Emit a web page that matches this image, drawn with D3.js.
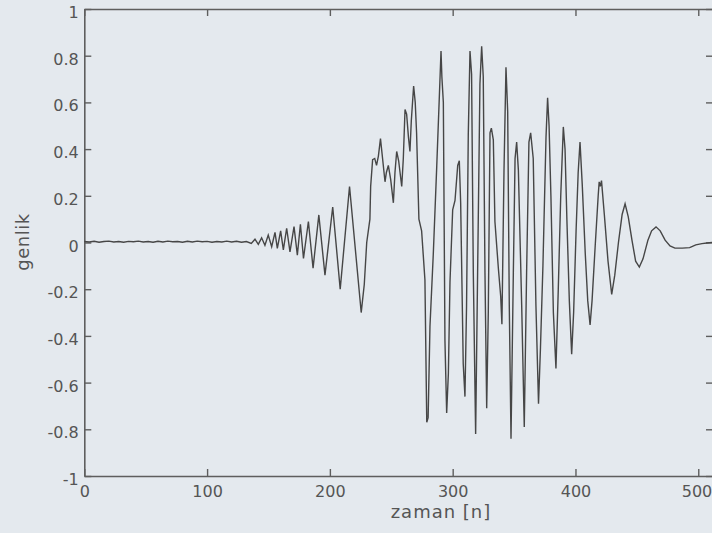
<!DOCTYPE html>
<html>
<head>
<meta charset="utf-8">
<script src="https://cdn.jsdelivr.net/npm/d3@7"></script>
<style>
  html, body { margin: 0; padding: 0; background: #e4e9ee; }
  svg { display: block; }
</style>
</head>
<body>
<svg id="chart" width="712" height="533"></svg>
<script>
// ---- data ----
const sampleN = [
  0, 4, 8, 12, 16, 20, 24, 28, 32, 36, 40, 44, 48, 52, 56, 60, 64, 68, 72, 76,
  80, 84, 88, 92, 96, 100, 104, 108, 112, 116, 120, 124, 128, 132,
  136, 139, 141.7, 144.4, 147.1, 149.8, 152.6, 155.3, 157.2, 159.9, 162.1, 164.8, 167.5,
  170.8, 173.5, 176, 178.5, 182.5, 186.3, 191, 196, 202.3, 208.4, 216, 225.5, 228, 230,
  232.6, 233.2, 234.8, 236.5, 238, 239.5, 241.2, 242.5, 244.9, 246, 247.6, 249.5, 251.7,
  253, 254.4, 256, 258.5, 259.8, 261.2, 262.5, 264, 265.2, 266.3, 268.2, 269.5, 270.6,
  272.5, 274.7, 277.4, 278.9, 280, 281.5, 284.2, 286.9, 289.1, 290.5, 291.2, 292.4,
  293.7, 295.1, 296.5, 297.8, 300, 301.9, 304.1, 305.4, 306.5, 308.6, 310, 311.3,
  312.7, 314.1, 315.4, 316.8, 318.7, 320.3, 322.2, 323.6, 324.9, 326.3, 327.7, 329,
  330.4, 331.5, 333.1, 334.4, 337.2, 339.1, 340.1, 341.8, 343.4, 344.8, 346.1, 347.5,
  349.4, 350.8, 352.1, 353.5, 356.2, 358.3, 360.2, 362.1, 363.5, 365.6, 367.8, 369.9,
  371.5, 373.5, 376, 377.3, 378.5, 380, 382, 384.1, 386, 388, 390.1, 391.5, 393, 395,
  396.9, 398.5, 400.5, 402.2, 403.7, 405.5, 408, 410, 411.9, 413.5, 416, 418.5, 419.3,
  420.2, 421.2, 423.5, 426.5, 429.5, 432, 435, 438, 440.4, 443, 446, 449, 452, 455,
  459, 462, 465.6, 469, 473, 477, 481, 487, 493, 498, 503, 507, 512
];
const amplitude = [
  0.004, 0.002, 0.005, 0.001, 0.004, 0.006, 0.002, 0.004, 0.001, 0.005, 0.003, 0.006, 0.002, 0.004, 0.001, 0.005, 0.002, 0.006, 0.003, 0.004,
  0.001, 0.005, 0.002, 0.006, 0.003, 0.005, 0.001, 0.004, 0.002, 0.006, 0.002, 0.005, 0.001, 0.004,
  -0.004, 0.014, -0.008, 0.02, -0.012, 0.032, -0.018, 0.043, -0.025, 0.05, -0.032, 0.061, -0.04,
  0.068, -0.054, 0.078, -0.068, 0.09, -0.11, 0.118, -0.14, 0.152, -0.2, 0.24, -0.30, -0.18, 0.0,
  0.1, 0.24, 0.355, 0.36, 0.33, 0.37, 0.445, 0.38, 0.26, 0.3, 0.33, 0.27, 0.17,
  0.3, 0.39, 0.35, 0.24, 0.36, 0.57, 0.55, 0.45, 0.39, 0.52, 0.67, 0.60, 0.47,
  0.10, 0.05, -0.16, -0.77, -0.75, -0.36, -0.05, 0.31, 0.62, 0.82, 0.71, 0.60,
  -0.42, -0.73, -0.56, -0.17, 0.14, 0.18, 0.33, 0.35, 0.17, -0.52, -0.66, -0.27,
  0.46, 0.82, 0.72, -0.13, -0.82, -0.13, 0.68, 0.84, 0.71, -0.13, -0.71, -0.3,
  0.47, 0.49, 0.44, 0.09, -0.11, -0.23, -0.35, 0.31, 0.75, 0.56, -0.27, -0.84,
  -0.13, 0.36, 0.43, 0.31, -0.27, -0.79, -0.13, 0.43, 0.47, 0.36, -0.27, -0.69,
  -0.45, -0.1, 0.45, 0.62, 0.5, 0.2, -0.3, -0.54, -0.2, 0.2, 0.495, 0.4, 0.1, -0.25,
  -0.478, -0.3, 0.05, 0.3, 0.43, 0.25, -0.05, -0.25, -0.353, -0.25, -0.02, 0.2, 0.26,
  0.24, 0.265, 0.12, -0.08, -0.222, -0.14, 0.0, 0.12, 0.166, 0.11, 0.01, -0.08, -0.105, -0.07,
  0.01, 0.05, 0.067, 0.05, 0.01, -0.015, -0.024, -0.024, -0.022, -0.01, -0.005, -0.002, 0.001
];
const xTicks = [0, 100, 200, 300, 400, 500];
const xTickLabels = ["0", "100", "200", "300", "400", "500"];
const yTicks = [-1, -0.8, -0.6, -0.4, -0.2, 0, 0.2, 0.4, 0.6, 0.8, 1];
const yTickLabels = ["-1", "-0.8", "-0.6", "-0.4", "-0.2", "0", "0.2", "0.4", "0.6", "0.8", "1"];
const xLabel = "zaman [n]";
const yLabel = "genlik";

// ---- drawing ----
(function () {
  const svg = d3.select("#chart");
  const mLeft = 84.3, mRight = 713, mTop = 9, mBottom = 476;
  const inkAxis = "#5e5e5e", inkText = "#555", inkLine = "#464646";

  svg.append("rect").attr("width", 712).attr("height", 533).attr("fill", "#e4e9ee");

  const x = d3.scaleLinear().domain([0, 512]).range([mLeft, mRight]);
  const y = d3.scaleLinear().domain([-1, 1]).range([mBottom, mTop]);

  const fontFam = "'DejaVu Sans', Verdana, sans-serif";

  function styleAxis(g) {
    g.select(".domain").attr("stroke", inkAxis).attr("stroke-width", 1.6);
    g.selectAll(".tick line").attr("stroke", inkAxis).attr("stroke-width", 1.4);
    g.selectAll("text").attr("fill", inkText).style("font-family", fontFam).style("font-size", "16px");
  }

  const gx = svg.append("g").attr("transform", `translate(0,${mBottom})`)
    .call(d3.axisBottom(x).tickValues(xTicks).tickSize(-7).tickSizeOuter(0)
      .tickFormat((d, i) => xTickLabels[i]));
  styleAxis(gx);
  gx.selectAll("text").attr("y", 20.5).attr("dy", null);
  // keep the last label inside the picture
  gx.selectAll("text").filter(d => d === 500).attr("text-anchor", "end").attr("x", 13.5);

  const gxt = svg.append("g").attr("transform", `translate(0,${mTop})`)
    .call(d3.axisTop(x).tickValues(xTicks).tickSize(-7).tickSizeOuter(0).tickFormat(""));
  styleAxis(gxt);

  const gy = svg.append("g").attr("transform", `translate(${mLeft},0)`)
    .call(d3.axisLeft(y).tickValues(yTicks).tickSize(-7).tickSizeOuter(0)
      .tickFormat((d, i) => yTickLabels[i]));
  styleAxis(gy);
  gy.selectAll("text").attr("x", -5.5).attr("dy", null).attr("y", 8.5);

  const gyr = svg.append("g").attr("transform", `translate(${mRight},0)`)
    .call(d3.axisRight(y).tickValues(yTicks).tickSize(-7).tickSizeOuter(0).tickFormat(""));
  styleAxis(gyr);

  const pts = sampleN.map((n, i) => [n, amplitude[i]]);
  svg.append("path")
    .datum(pts)
    .attr("fill", "none")
    .attr("stroke", inkLine)
    .attr("stroke-width", 1.4)
    .attr("d", d3.line().x(d => x(d[0])).y(d => y(d[1])));

  svg.append("text")
    .attr("x", 441).attr("y", 518)
    .attr("text-anchor", "middle")
    .attr("fill", inkText)
    .style("font-family", fontFam).style("font-size", "18px").style("letter-spacing", "1px")
    .text(xLabel);

  svg.append("text")
    .attr("transform", `translate(29,242) rotate(-90)`)
    .attr("text-anchor", "middle")
    .attr("fill", inkText)
    .style("font-family", fontFam).style("font-size", "18px").style("letter-spacing", "0.5px")
    .text(yLabel);
})();
</script>
</body>
</html>
